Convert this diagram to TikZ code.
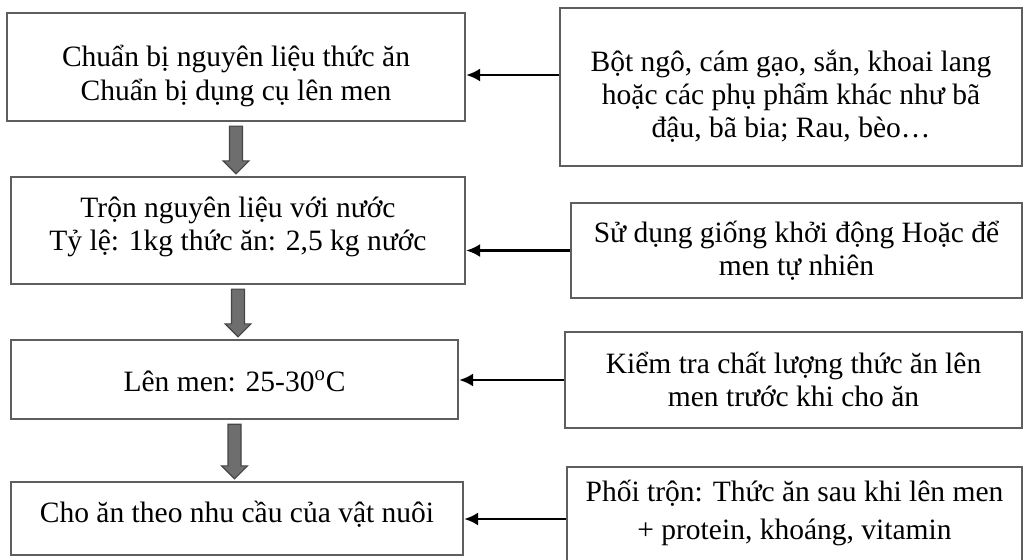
\documentclass[tikz,border=0pt]{standalone}
\usepackage{fontspec}
\setmainfont{Liberation Serif}
\usetikzlibrary{calc}
\usetikzlibrary{arrows.meta}

\definecolor{boxgray}{HTML}{5E5E5E}
\definecolor{arrowgray}{HTML}{6E6E6E}
\definecolor{arrowedge}{HTML}{454545}

\tikzset{
  box/.style={draw=boxgray, line width=1.3pt, inner sep=0pt},
  txt/.style={align=center, inner sep=0pt, font=\fontsize{16.8}{18.8}\selectfont},
  feed/.style={draw=black, line width=1.6pt, -{Latex[length=8pt,width=7.5pt]}},
  downarrow/.style={fill=arrowgray, draw=arrowedge, line width=0.7pt, line join=miter},
}

\begin{document}
\begin{tikzpicture}[x=0.02cm, y=-0.02cm]
    \useasboundingbox (0,0) rectangle (1027,560);

    % steps (left column)
    \node[box, minimum width=9.16cm, minimum height=2.16cm] (L1) at (236,67) {};
    \node[box, minimum width=9.08cm, minimum height=2.14cm] (L2) at (238,230.5) {};
    \node[box, minimum width=8.94cm, minimum height=1.58cm] (L3) at (234.5,379.5) {};
    \node[box, minimum width=9.04cm, minimum height=1.46cm] (L4) at (237,518.5) {};
    \node[txt] (L1txt) at ($(L1)+(0,9)$) {Chuẩn bị nguyên liệu thức ăn\\Chuẩn bị dụng cụ lên men};
    \node[txt] (L2txt) at ($(L2)+(0,-4)$) {Trộn nguyên liệu với nước\\Tỷ lệ: 1kg thức ăn: 2,5 kg nước};
    \node[txt] (L3txt) at ($(L3)+(0,2)$) {Lên men: 25-30\textsuperscript{o}C};
    \node[txt] (L4txt) at ($(L4)+(0,-4)$) {Cho ăn theo nhu cầu của vật nuôi};

    % inputs (right column)
    \node[box, minimum width=9.24cm, minimum height=3.16cm] (R1) at (791,87) {};
    \node[box, minimum width=9.02cm, minimum height=1.9cm] (R2) at (796.5,250.5) {};
    \node[box, minimum width=9.14cm, minimum height=1.92cm] (R3) at (793.5,380) {};
    \node[box, minimum width=9.1cm, minimum height=2.2cm] (R4) at (794.5,522) {};
    \node[txt] (R1txt) at ($(R1)+(0,9)$) {Bột ngô, cám gạo, sắn, khoai lang\\hoặc các phụ phẩm khác như bã\\đậu, bã bia; Rau, bèo…};
    \node[txt] (R2txt) at (R2) {Sử dụng giống khởi động Hoặc để\\men tự nhiên};
    \node[txt] (R3txt) at ($(R3)+(0,-1)$) {Kiểm tra chất lượng thức ăn lên\\men trước khi cho ăn};
    \node[txt] (R4txt) at ($(R4)+(0,-9)$) {Phối trộn: Thức ăn sau khi lên men\\[2.5pt]+ protein, khoáng, vitamin};

    \draw[feed] ([yshift=0.24cm]R1.west) -- ([yshift=0.24cm]R1.west -| L1.east);
    \draw[feed] (R2.west) -- (R2.west -| L2.east);
    \draw[feed] (R3.west) -- (R3.west -| L3.east);
    \draw[feed] ([yshift=0.06cm]R4.west) -- ([yshift=0.06cm]R4.west -| L4.east);

    % block arrows between steps
    \foreach \a/\b in {L1/L2, L2/L3, L3/L4} {
        \coordinate (t) at ($(\a.south)+(0,4)$);
        \coordinate (h) at ($(\a.south |- \b.north)+(0,-2)$);
        \draw[downarrow] ($(t)+(-6.5,0)$) -- ($(t)+(6.5,0)$) -- ($(h)+(6.5,-13)$)
            -- ($(h)+(13,-13)$) -- (h) -- ($(h)+(-13,-13)$)
            -- ($(h)+(-6.5,-13)$) -- cycle;
    }
\end{tikzpicture}
\end{document}
